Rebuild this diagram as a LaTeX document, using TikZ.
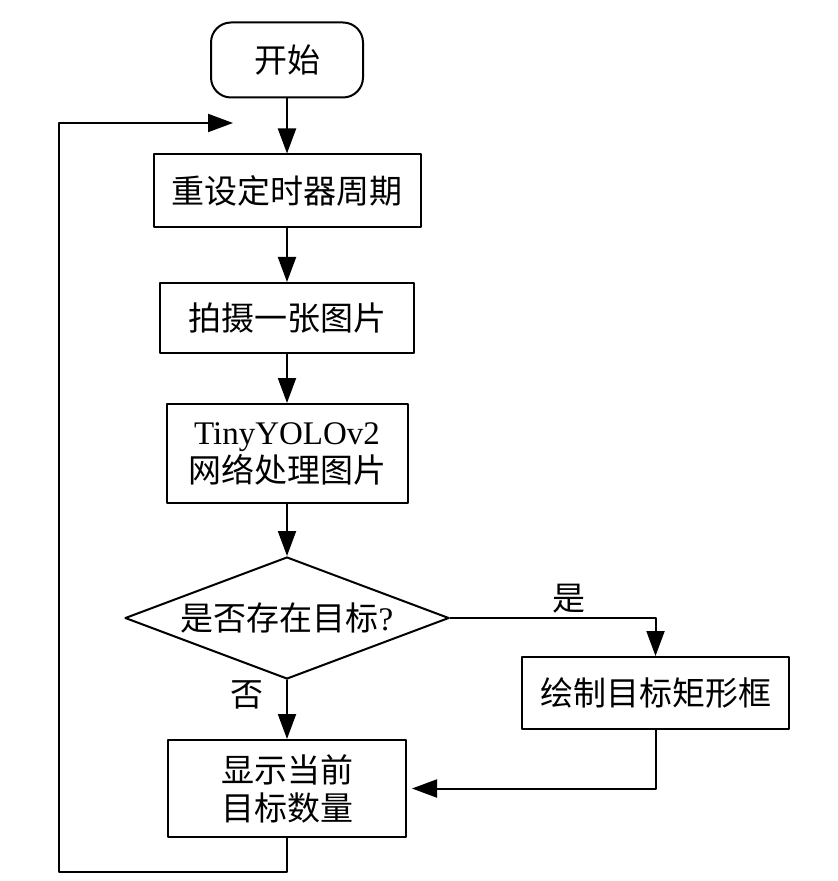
\documentclass[tikz,border=0pt]{standalone}
\usepackage{fontspec}
\setmainfont{Liberation Serif}
\newfontfamily\cjk{Noto Sans CJK SC}
\usetikzlibrary{shapes.geometric,arrows.meta}

\begin{document}
\begin{tikzpicture}[line cap=round,line join=round,>={Triangle[length=12.5pt,width=9pt]},x=0.5pt,y=-0.5pt,
  every node/.style={font=\fontsize{16.5}{19}\selectfont},
  box/.style={draw,line width=1pt,inner sep=0pt,align=center},
  startbox/.style={box,rounded corners=10pt,minimum width=76pt,minimum height=37.5pt},
  decide/.style={diamond,draw,line width=1pt,aspect=2.66,inner sep=0pt,minimum width=162pt,minimum height=61pt}]
\useasboundingbox (0,0) rectangle (838,881);
% boxes
\node[startbox] (start) at (287,60) {{\cjk 开始}};
\node[box,minimum width=133.5pt,minimum height=36.5pt] (reset) at (287,191) {{\cjk 重设定时器周期}};
\node[box,minimum width=127pt,minimum height=35pt] (shoot) at (287,318) {{\cjk 拍摄一张图片}};
\node[box,minimum width=120.5pt,minimum height=49.5pt] (yolo) at (287,453.5) {TinyYOLOv2\\{\cjk 网络处理图片}};
\node[decide] (check) at (287,618) {{\cjk 是否存在目标}?};
\node[box,minimum width=133.5pt,minimum height=36pt] (mark) at (655.5,693) {{\cjk 绘制目标矩形框}};
\node[box,minimum width=119pt,minimum height=48.5pt] (show) at (287,788.5) {{\cjk 显示当前}\\{\cjk 目标数量}};
% labels
\node (yes) at (569,599) {{\cjk 是}};
\node (no) at (247,695) {{\cjk 否}};
\coordinate (lbot) at (59,872);
\coordinate (ltop) at (233,123);
% arrows
\begin{scope}[line width=1pt]
\draw[->] (start) -- (reset);
\draw[->] (reset) -- (shoot);
\draw[->] (shoot) -- (yolo);
\draw[->] (yolo) -- (check);
\draw[->] (check) -- (show);
\draw[->] (check) -| (mark);
\draw[->,shorten >=2.5pt] (mark) |- (show);
\draw[->] (show) |- (lbot) |- (ltop);
\end{scope}
\end{tikzpicture}
\end{document}
